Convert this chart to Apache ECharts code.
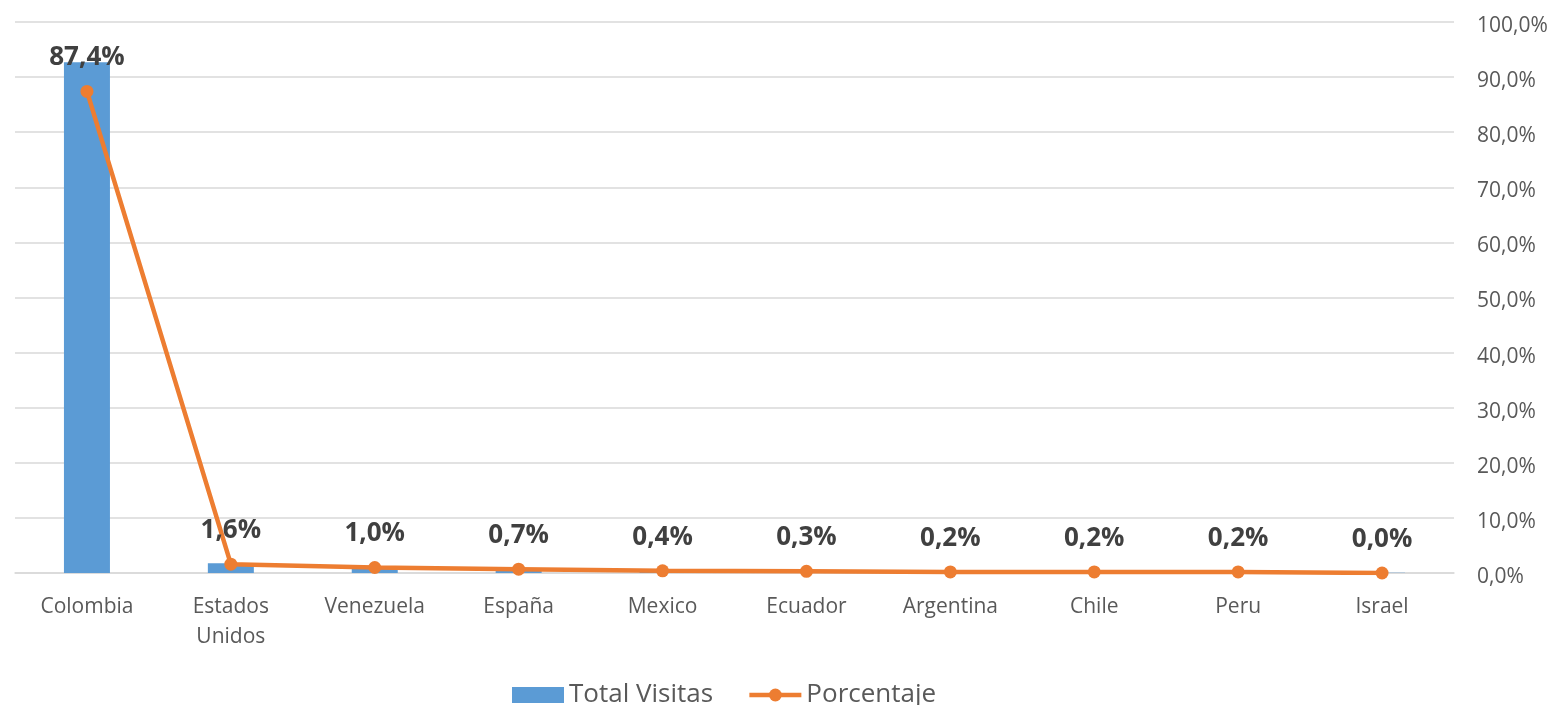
<!DOCTYPE html>
<html>
<head>
<meta charset="utf-8">
<script src="https://cdn.jsdelivr.net/npm/echarts@6/dist/echarts.min.js"></script>
<style>
html,body{margin:0;padding:0;background:#fff;}
#chart{width:1554px;height:705px;}
</style>
</head>
<body>
<div id="chart"></div>
<script>
const categories = ['Colombia','Estados Unidos','Venezuela','España','Mexico','Ecuador','Argentina','Chile','Peru','Israel'];
const totalVisitas = [4635, 88, 53, 37, 21, 16, 11, 11, 11, 2];
const porcentaje = [87.4, 1.6, 1.0, 0.7, 0.4, 0.3, 0.2, 0.2, 0.2, 0.0];
const seriesNames = ['Total Visitas', 'Porcentaje'];

const fmt = v => v.toFixed(1).replace('.', ',') + '%';
const FONT = '"Open Sans", "Noto Sans", sans-serif';

const chart = echarts.init(document.getElementById('chart'));
chart.setOption({
  animation: false,
  textStyle: { fontFamily: FONT },
  grid: { left: 15, right: 100, top: 22, bottom: 132, containLabel: false },
  legend: {
    bottom: -8,
    left: 507,
    itemGap: 34,
    itemWidth: 52,
    itemHeight: 16,
    textStyle: { fontSize: 26, color: '#595959', fontFamily: FONT },
    data: [
      { name: seriesNames[0], icon: 'rect' },
      { name: seriesNames[1], lineStyle: { width: 4.5 } }
    ]
  },
  xAxis: {
    type: 'category',
    data: categories,
    axisTick: { show: false },
    axisLine: { lineStyle: { color: '#d9d9d9', width: 1.5 } },
    axisLabel: {
      color: '#595959', fontSize: 21, margin: 19, lineHeight: 30,
      interval: 0,
      formatter: v => v.replace(' ', '\n')
    }
  },
  yAxis: [
    { type: 'value', min: 0, max: 5000, show: false, splitLine: { show: false } },
    {
      type: 'value', position: 'right', min: 0, max: 100, interval: 10,
      axisLine: { show: false }, axisTick: { show: false },
      axisLabel: {
        color: '#595959', fontSize: 21, margin: 23,
        formatter: v => '{a|' + fmt(v) + '}',
        rich: { a: { color: '#595959', fontSize: 21, padding: [8, 0, 0, 0], fontFamily: FONT } }
      },
      splitLine: { show: true, lineStyle: { color: '#d9d9d9', width: 1.5 } }
    }
  ],
  series: [
    {
      name: seriesNames[0], type: 'bar', yAxisIndex: 0,
      data: totalVisitas, barWidth: 46,
      itemStyle: { color: '#5b9bd5' }
    },
    {
      name: seriesNames[1], type: 'line', yAxisIndex: 1,
      data: porcentaje,
      symbol: 'circle', symbolSize: 13,
      lineStyle: { color: '#ed7d31', width: 4.5 },
      itemStyle: { color: '#ed7d31' },
      label: {
        show: true, position: 'top', distance: 14,
        fontSize: 26, fontWeight: 'bold', color: '#404040',
        formatter: p => fmt(p.value)
      },
      z: 5
    }
  ]
});
</script>
</body>
</html>
